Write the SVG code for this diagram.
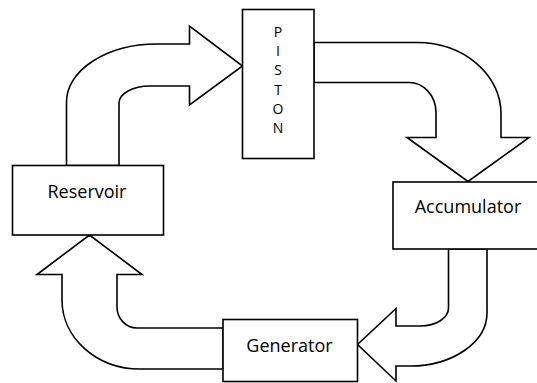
<svg xmlns="http://www.w3.org/2000/svg" width="537" height="383" viewBox="0 0 537 383">
<style>
.box{fill:#fff;stroke:#000;stroke-width:1.6}
.arr{fill:#fff;stroke:#000;stroke-width:1.6;stroke-linejoin:miter}
.lbl{font-family:"Open Sans","Liberation Sans",sans-serif;font-size:18px;fill:#000;text-anchor:middle}
.vl{font-family:"Open Sans","Liberation Sans",sans-serif;font-size:14px;fill:#000;text-anchor:middle}
</style>
<rect width="537" height="383" fill="#fff"/>
<g id="connectors">
<path class="arr" d="M66.5,165.5 V102 A90.5,58 0 0 1 157,44 H189.5 V26 L242.5,66 L189.5,105 V86 H150 A31,17 0 0 0 119,103 V165.5 Z"/>
<path class="arr" d="M314,42.5 H417 A84,71 0 0 1 501,113.5 V137.5 H529 L468,181.5 L407,137.5 H436 V112 A27,30 0 0 0 409,82.5 H314 Z"/>
<path class="arr" d="M448.5,249 V308 A28,18 0 0 1 420.5,326 H396 V308.5 L357.5,344.5 L396,381 V366 H410 A77,53 0 0 0 487,313 V249 Z"/>
<path class="arr" d="M223,369 H140 A78,69 0 0 1 62,300 V274.5 H37 L89.5,235 L142,274.5 H117 V307 A20,21 0 0 0 137,328 H223 Z"/>
</g>
<g id="reservoir">
<rect class="box" x="12.5" y="165.5" width="151" height="69.5"/>
<text class="lbl" x="87" y="197.5">Reservoir</text>
</g>
<g id="piston">
<rect class="box" x="242.5" y="9.5" width="71.5" height="149"/>
<text class="vl" x="278" y="37">P</text>
<text class="vl" x="278" y="56.2">I</text>
<text class="vl" x="278" y="75.4">S</text>
<text class="vl" x="278" y="94.6">T</text>
<text class="vl" x="278" y="113.8">O</text>
<text class="vl" x="278" y="133">N</text>
</g>
<g id="accumulator">
<rect class="box" x="393" y="182" width="150" height="67"/>
<text class="lbl" x="468" y="212.7">Accumulator</text>
</g>
<g id="generator">
<rect class="box" x="223" y="319.5" width="134.5" height="62"/>
<text class="lbl" x="289.5" y="351.7">Generator</text>
</g>
</svg>
